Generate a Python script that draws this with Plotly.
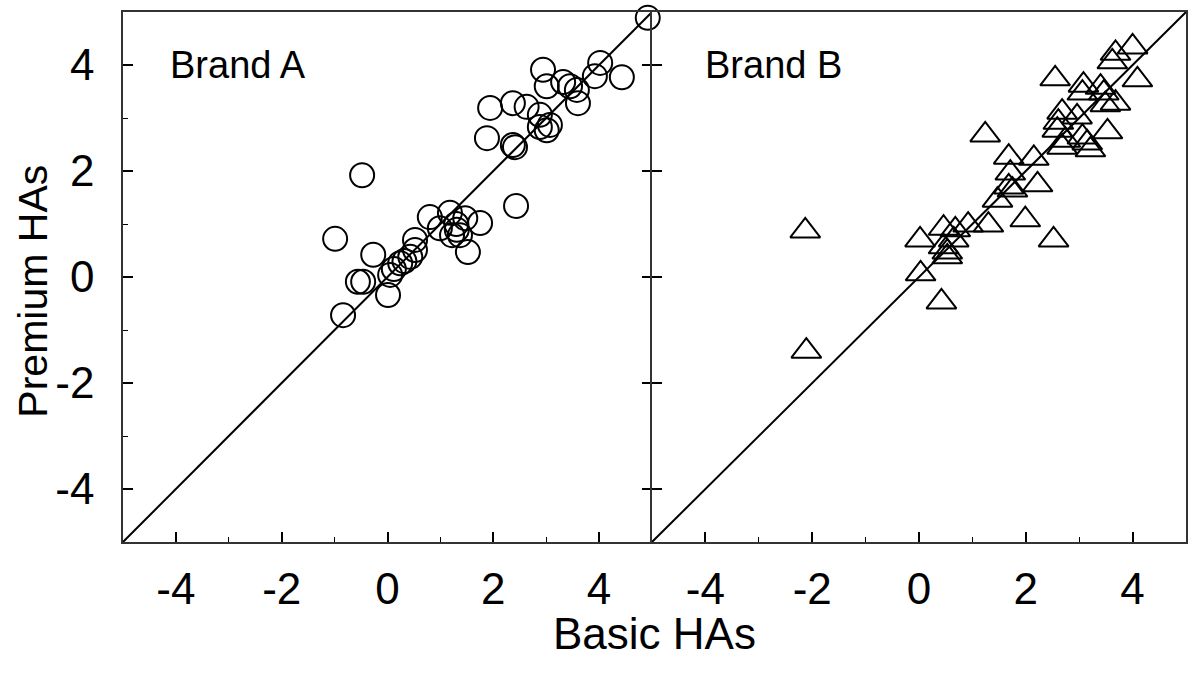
import plotly.graph_objects as go

# Brand A (circles)
a_basic = [4.92, 4.02, 4.43, 3.92, 2.94, 3.01, 3.32, 3.45, 3.58, 3.60, 1.94, 2.37, 2.63, 2.88,
           3.07, 2.88, 3.01, 1.88, 2.37, 2.41, -0.48, 2.43, -0.99, 0.80, 1.18, 1.47, 1.75, 1.31,
           1.22, 1.37, 0.99, 1.52, 0.52, 0.52, 0.43, -0.27, 0.24, 0.05, -0.46, -0.56, 0.01, -0.84,
           1.30, 0.12, 0.32]
a_premium = [4.89, 4.04, 3.77, 3.79, 3.91, 3.60, 3.68, 3.60, 3.53, 3.28, 3.19, 3.28, 3.21, 3.06,
             2.87, 2.83, 2.77, 2.62, 2.49, 2.45, 1.92, 1.34, 0.72, 1.13, 1.21, 1.11, 1.02, 0.89,
             0.79, 0.79, 0.92, 0.47, 0.70, 0.51, 0.38, 0.42, 0.26, 0.04, -0.09, -0.09, -0.34, -0.72,
             1.00, 0.15, 0.30]

# Brand B (triangles)
b_basic = [1.24, -2.13, -2.11, 0.02, 0.03, 0.42, 0.46, 0.68, 0.92, 1.30, 0.46, 0.53, 0.53, 1.68,
           1.71, 1.68, 1.47, 0.65, 4.00, 3.68, 3.62, 4.09, 2.55, 3.08, 3.06, 3.40, 3.46, 3.68,
           3.49, 2.68, 2.96, 2.61, 2.59, 2.74, 2.68, 3.06, 3.15, 3.21, 3.53, 2.15, 2.22, 1.99,
           2.52, 1.75]
b_premium = [2.68, 0.87, -1.40, 0.70, 0.06, -0.47, 0.92, 0.89, 0.98, 0.98, 0.57, 0.47, 0.38, 2.26,
             1.96, 1.70, 1.45, 0.70, 4.34, 4.22, 4.06, 3.72, 3.74, 3.62, 3.47, 3.58, 3.47, 3.28,
             3.25, 3.11, 3.02, 2.92, 2.77, 2.58, 2.45, 2.64, 2.53, 2.40, 2.74, 2.24, 1.74, 1.08,
             0.70, 1.64]

diag = [-5, 5]
major_ticks = [-4, -2, 0, 2, 4]
tick_labels = ["-4", "-2", "0", "2", "4"]

FONT = "Liberation Sans, Arial, sans-serif"
W, H = 1191, 683
ml, mr, mt, mb = 123, 5, 12, 141
split = (652 - ml) / (W - ml - mr)

fig = go.Figure()
fig.add_trace(go.Scatter(x=diag, y=diag, mode="lines", line=dict(color="black", width=2),
                         xaxis="x", yaxis="y", showlegend=False, hoverinfo="skip"))
fig.add_trace(go.Scatter(x=a_basic, y=a_premium, mode="markers", cliponaxis=False,
                         marker=dict(symbol="circle-open", size=24, color="black",
                                     line=dict(width=2, color="black")),
                         xaxis="x", yaxis="y", showlegend=False))
fig.add_trace(go.Scatter(x=diag, y=diag, mode="lines", line=dict(color="black", width=2),
                         xaxis="x2", yaxis="y2", showlegend=False, hoverinfo="skip"))
fig.add_trace(go.Scatter(x=b_basic, y=b_premium, mode="markers", cliponaxis=False,
                         marker=dict(symbol="triangle-up-open", size=26, color="black",
                                     line=dict(width=2, color="black")),
                         xaxis="x2", yaxis="y2", showlegend=False))
fig.add_trace(go.Scatter(x=[None], y=[None], xaxis="x", yaxis="y3", showlegend=False,
                         hoverinfo="skip"))

xcommon = dict(range=[-5, 5], tickvals=major_ticks, ticktext=tick_labels, ticks="inside",
               ticklen=10, tickwidth=1.5, tickcolor="black", showline=True, linecolor="#333",
               linewidth=1.5, mirror=True, showgrid=False, zeroline=False, automargin=False,
               tickfont=dict(family=FONT, size=44, color="black"),
               minor=dict(dtick=1, tick0=-5, ticks="inside", ticklen=5, tickwidth=1,
                          tickcolor="black", showgrid=False),
               ticklabelstandoff=7)

fig.update_layout(
    width=W, height=H,
    margin=dict(l=ml, r=mr, t=mt, b=mb),
    paper_bgcolor="white", plot_bgcolor="white",
    xaxis=dict(domain=[0, split], anchor="y", **xcommon),
    xaxis2=dict(domain=[split, 1], anchor="y2", **xcommon),
    yaxis=dict(domain=[0, 1], anchor="x", range=[-5, 5], tickvals=major_ticks,
               ticktext=tick_labels, ticks="inside", ticklen=10, tickwidth=1.5,
               tickcolor="black", showline=True, linecolor="#333", linewidth=1.5,
               mirror=False, showgrid=False, zeroline=False, automargin=False,
               tickfont=dict(family=FONT, size=44, color="black"),
               minor=dict(dtick=1, tick0=-5, ticks="inside", ticklen=5, tickwidth=1,
                          tickcolor="black", showgrid=False),
               ticklabelstandoff=18),
    yaxis2=dict(domain=[0, 1], anchor="x2", range=[-5, 5], tickvals=major_ticks,
                ticks="inside", ticklen=10, tickwidth=1.5, tickcolor="black",
                showticklabels=False, showline=True, linecolor="#333", linewidth=1.5,
                mirror=True, showgrid=False, zeroline=False, automargin=False),
    yaxis3=dict(overlaying="y", anchor="x", side="right", range=[-5, 5],
                tickvals=major_ticks, ticks="inside", ticklen=10, tickwidth=1.5,
                tickcolor="black", showticklabels=False, showline=False,
                showgrid=False, zeroline=False, automargin=False),
    annotations=[
        dict(text="Brand A", x=0.042, y=0.9, xref="paper", yref="paper", showarrow=False,
             xanchor="left", yanchor="middle", font=dict(family=FONT, size=38, color="black")),
        dict(text="Brand B", x=split + 0.048, y=0.9, xref="paper", yref="paper",
             showarrow=False, xanchor="left", yanchor="middle",
             font=dict(family=FONT, size=38, color="black")),
        dict(text="Basic HAs", x=0.5, y=-0.172, xref="paper", yref="paper", showarrow=False,
             xanchor="center", yanchor="middle", font=dict(family=FONT, size=44, color="black")),
        dict(text="Premium HAs", x=-0.085, y=0.4736, xref="paper", yref="paper",
             showarrow=False, textangle=-90, xanchor="center", yanchor="middle",
             font=dict(family=FONT, size=41, color="black")),
    ],
)

fig.write_html("out.html", config={"displayModeBar": False},
               post_script="document.body.style.margin='0px';document.body.style.overflow='hidden';")
